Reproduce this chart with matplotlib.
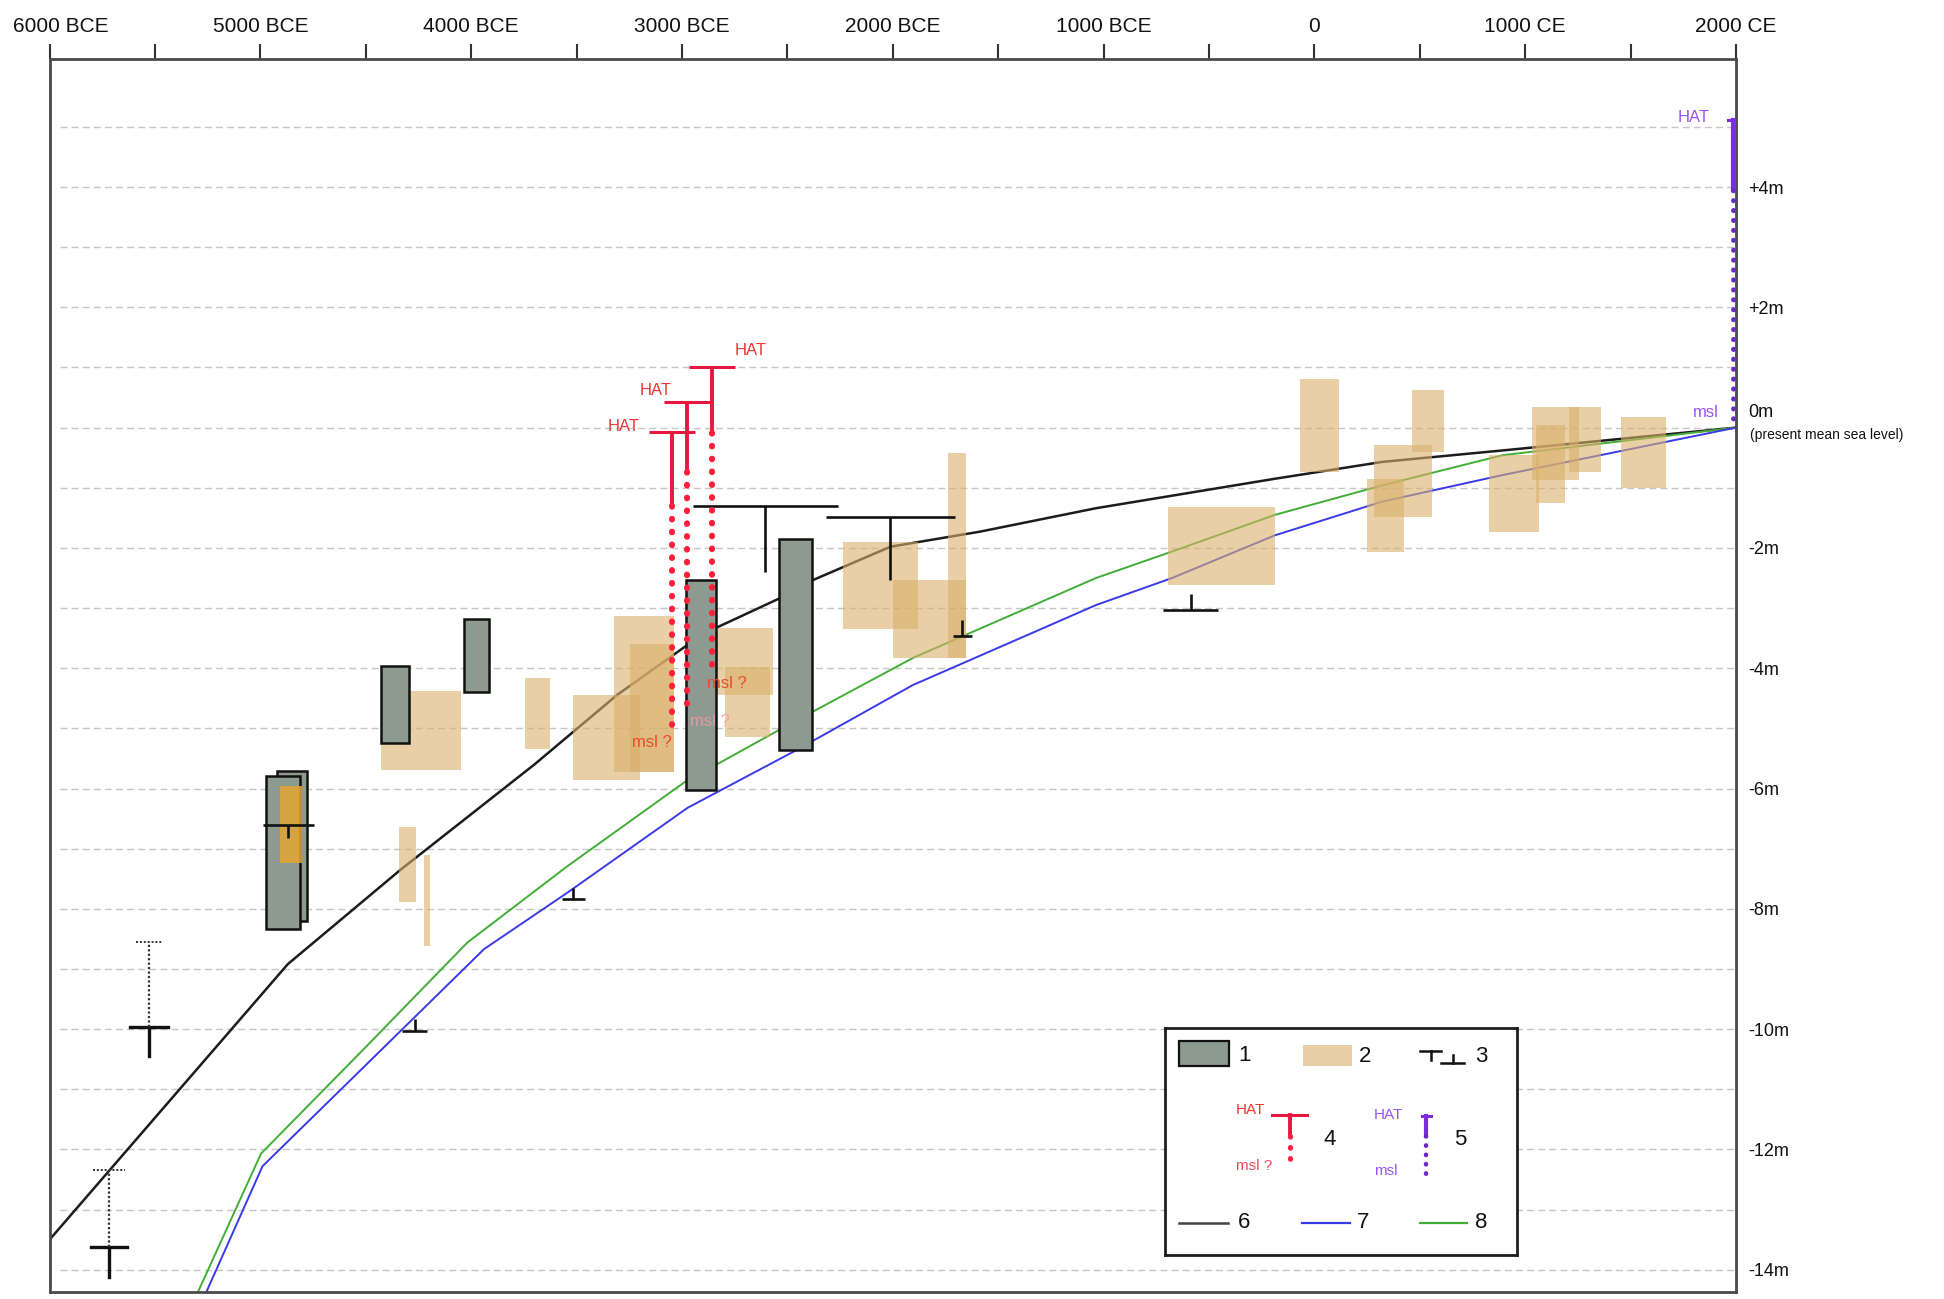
import matplotlib
matplotlib.use("Agg")
import matplotlib.pyplot as plt
from matplotlib.patches import Rectangle
from matplotlib.ticker import MultipleLocator
from matplotlib.transforms import ScaledTranslation

plt.rcParams['font.family'] = ['Liberation Sans', 'DejaVu Sans']

# AXES
YEAR_TICKS = [-6000, -5000, -4000, -3000, -2000, -1000, 0, 1000, 2000]
YEAR_LABELS = ['6000 BCE', '5000 BCE', '4000 BCE', '3000 BCE', '2000 BCE',
               '1000 BCE', '0', '1000 CE', '2000 CE']
DEPTH_TICKS = [4, 2, -2, -4, -6, -8, -10, -12, -14]
DEPTH_LABELS = ['+4m', '+2m', '-2m', '-4m', '-6m', '-8m', '-10m', '-12m', '-14m']

# 1 - grey bars: (start year, end year, top m, bottom m)
GREY_BARS = [(-4921, -4781, -5.71, -8.20), (-4971, -4813, -5.79, -8.34),
             (-4430, -4295, -3.97, -5.25), (-4034, -3915, -3.19, -4.40),
             (-2981, -2839, -2.54, -6.03), (-2540, -2383, -1.86, -5.36)]

# 2 - tan boxes: (start year, end year, top m, bottom m)
TAN_BOXES = [(-4430, -4050, -4.38, -5.70), (-3746, -3625, -4.16, -5.35),
             (-4343, -4264, -6.64, -7.88), (-4222, -4194, -7.10, -8.62),
             (-3515, -3200, -4.45, -5.86), (-3322, -3037, -3.13, -5.72),
             (-3245, -3037, -3.60, -5.72), (-2842, -2570, -3.33, -4.45),
             (-2795, -2583, -3.98, -5.14), (-2237, -1880, -1.90, -3.34),
             (-2000, -1655, -2.53, -3.83), (-1737, -1651, -0.43, -3.83),
             (-693, -186, -1.32, -2.62), (-68, 115, 0.81, -0.73),
             (281, 558, -0.29, -1.48), (463, 613, 0.62, -0.40),
             (249, 423, -0.85, -2.06), (828, 1065, -0.46, -1.73),
             (1033, 1255, 0.34, -0.87), (1049, 1191, 0.04, -1.26),
             (1207, 1358, 0.34, -0.73), (1453, 1667, 0.18, -1.01)]
ORANGE_BOX = (-4905, -4802, -5.96, -7.23)

# 3 - T / inverted T markers: (centre year, half width, level m, stem end m)
T_MARKS = [(-4868, 121, -6.61, -6.82), (-2606, 344, -1.31, -2.40),
           (-2011, 305, -1.48, -2.53), (-1670, 45, -3.47, -3.20),
           (-587, 130, -3.03, -2.77), (-3515, 55, -7.84, -7.65),
           (-4268, 60, -10.03, -9.83)]
# crosses with dotted upper range: (year, half width, level, solid end, dotted top, cap half width)
CROSS_MARKS = [(-5527, 90, -9.96, -10.45, -8.55, 65),
               (-5717, 85, -13.62, -14.12, -12.34, 75)]

# 4 - red HAT / msl? indicators
RED_X = [-3048, -2977, -2858]
RED_HAT = [-0.08, 0.42, 1.00]
RED_SOLID_END = [-1.30, -0.74, -0.09]
RED_MSL = [-5.10, -4.75, -4.09]

# 5 - purple HAT / msl indicator
PURPLE_X = 1985
PURPLE_HAT = 5.12
PURPLE_SOLID_END = 3.95
PURPLE_MSL = 0.10

# 6, 7, 8 - curves
BLACK_YEARS = [-6000, -4870, -4335, -3700, -3306, -2973, -2839, -2538, -2389,
               -2011, -1587, -1036, -187, 322, 891, 2000]
BLACK_DEPTH = [-13.5, -8.92, -7.35, -5.60, -4.44, -3.61, -3.33, -2.84, -2.55,
               -1.98, -1.73, -1.34, -0.85, -0.57, -0.38, 0.0]
BLUE_YEARS = [-5260, -4990, -4422, -3939, -3543, -2973, -2467, -1905, -1036,
              -675, -187, 322, 891, 2000]
BLUE_DEPTH = [-14.4, -12.28, -10.33, -8.67, -7.73, -6.32, -5.38, -4.28, -2.95,
              -2.50, -1.79, -1.23, -0.79, 0.0]
GREEN_YEARS = [-5300, -4997, -4509, -4018, -3543, -2990, -2500, -1905, -1036,
               -675, -187, 322, 891, 2000]
GREEN_DEPTH = [-14.4, -12.07, -10.33, -8.56, -7.29, -5.90, -4.95, -3.83, -2.50,
               -2.06, -1.45, -0.96, -0.46, 0.0]

GREY = '#8c9a90'
TAN = '#d9b06a'
RED = '#e8173f'
RED_DOTS = '#ff1f3a'
RED_TEXT = '#ee3535'
PURPLE = '#7d2be0'
BLACK_LINE = '#1c1c1c'
BLUE_LINE = '#3a3ae6'
GREEN_LINE = '#42ad37'
DOTTED = (0, (0.1, 2.0))

fig = plt.figure(figsize=(19.44, 12.99), dpi=100)
ax = fig.add_axes([0.0255, 0.0054, 0.8675, 0.9488])
ax.set_xlim(-6000, 2000)
ax.set_ylim(-14.37, 6.12)

# dashed guide lines every metre
for d in range(-14, 6):
    ax.axhline(d, xmin=0.006, color='#c6c6c6', lw=1.0, ls=(0, (5, 3)), zorder=0)

# curves
ax.plot(BLACK_YEARS, BLACK_DEPTH, color=BLACK_LINE, lw=1.8, zorder=2)
ax.plot(GREEN_YEARS, GREEN_DEPTH, color=GREEN_LINE, lw=1.4, zorder=2)
ax.plot(BLUE_YEARS, BLUE_DEPTH, color=BLUE_LINE, lw=1.4, zorder=2)

for x0, x1, top, bot in TAN_BOXES:
    ax.add_patch(Rectangle((x0, bot), x1 - x0, top - bot, fc=TAN, ec='none',
                           alpha=0.6, zorder=3))

for x0, x1, top, bot in GREY_BARS:
    ax.add_patch(Rectangle((x0, bot), x1 - x0, top - bot, fc=GREY, ec='#111111',
                           lw=1.8, zorder=4))

x0, x1, top, bot = ORANGE_BOX
ax.add_patch(Rectangle((x0, bot), x1 - x0, top - bot, fc='#e3a535', ec='none',
                       alpha=0.85, zorder=4.5))

# type 3 markers
for c, hw, lvl, end in T_MARKS:
    ax.plot([c - hw, c + hw], [lvl, lvl], color='#111111', lw=1.9, zorder=5,
            solid_capstyle='butt')
    ax.plot([c, c], [lvl, end], color='#111111', lw=1.9, zorder=5,
            solid_capstyle='butt')

for c, hw, lvl, solid, top, cap in CROSS_MARKS:
    ax.plot([c - hw, c + hw], [lvl, lvl], color='#111111', lw=2.4, zorder=5)
    ax.plot([c, c], [lvl, solid], color='#111111', lw=2.4, zorder=5)
    ax.plot([c, c], [lvl, top], color='#333333', lw=1.6, ls=(0, (1, 1)), zorder=5)
    ax.plot([c - cap, c + cap], [top, top], color='#333333', lw=1.4,
            ls=(0, (1, 1)), zorder=5)

# red HAT / msl ? indicators
for x, hat, solid, msl in zip(RED_X, RED_HAT, RED_SOLID_END, RED_MSL):
    ax.plot([x - 110, x + 110], [hat, hat], color=RED, lw=2.2, zorder=6,
            solid_capstyle='butt')
    ax.plot([x, x], [hat, solid], color=RED, lw=2.8, zorder=6, solid_capstyle='butt')
    ax.plot([x, x], [solid, msl], color=RED_DOTS, lw=4.4, ls=DOTTED,
            dash_capstyle='round', zorder=6)

ax.text(-3200, 0.02, 'HAT', color=RED_TEXT, fontsize=12, ha='right', va='center', zorder=7)
ax.text(-3050, 0.62, 'HAT', color=RED_TEXT, fontsize=12, ha='right', va='center', zorder=7)
ax.text(-2750, 1.28, 'HAT', color=RED_TEXT, fontsize=12, ha='left', va='center', zorder=7)
ax.text(-3050, -5.24, 'msl ?', color='#ec4a2a', fontsize=12, ha='right', va='center', zorder=7)
ax.text(-2960, -4.88, 'msl ?', color='#f29aa4', fontsize=12, ha='left', va='center',
        alpha=0.85, zorder=7)
ax.text(-2880, -4.25, 'msl ?', color='#ec4a2a', fontsize=12, ha='left', va='center', zorder=7)

# purple HAT / msl indicator
ax.plot([PURPLE_X - 25, PURPLE_X + 25], [PURPLE_HAT, PURPLE_HAT], color=PURPLE,
        lw=2.2, zorder=6)
ax.plot([PURPLE_X, PURPLE_X], [PURPLE_HAT, PURPLE_SOLID_END], color=PURPLE,
        lw=3.0, zorder=6)
ax.plot([PURPLE_X, PURPLE_X], [PURPLE_SOLID_END, PURPLE_MSL], color='#6a28c8',
        lw=3.4, ls=DOTTED, dash_capstyle='round', zorder=6)
ax.text(1876, 5.15, 'HAT', color='#9a55ee', fontsize=12, ha='right', va='center', zorder=7)
ax.text(1920, 0.25, 'msl', color='#9a55ee', fontsize=12, ha='right', va='center', zorder=7)

# axis styling
for sp in ax.spines.values():
    sp.set_color('#4a4a4a')
    sp.set_linewidth(2.0)

ax.xaxis.tick_top()
ax.set_xticks(YEAR_TICKS)
ax.set_xticklabels(YEAR_LABELS)
ax.xaxis.set_minor_locator(MultipleLocator(500))
ax.tick_params(axis='x', which='both', direction='out', length=11, width=1.5,
               color='#333333', top=True, bottom=False, labelsize=15, pad=6,
               labelcolor='#111111')
# keep the first year label inside the figure
first = ax.get_xticklabels()[0]
first.set_transform(first.get_transform() + ScaledTranslation(0.11, 0, fig.dpi_scale_trans))

ax.yaxis.tick_right()
ax.set_yticks(DEPTH_TICKS)
ax.set_yticklabels(DEPTH_LABELS)
ax.tick_params(axis='y', length=0, pad=9, labelsize=13, labelcolor='#111111')

ytr = ax.get_yaxis_transform()
ax.text(1.0075, 0.25, '0m', transform=ytr, fontsize=13, va='center', ha='left',
        color='#111111')
ax.text(1.0085, -0.12, '(present mean sea level)', transform=ytr, fontsize=10,
        va='center', ha='left', color='#111111')

# legend panel
lg = fig.add_axes([0.5993, 0.0339, 0.1811, 0.1748])
lg.set_xlim(0, 283)
lg.set_ylim(183, 0)
lg.set_xticks([])
lg.set_yticks([])
for sp in lg.spines.values():
    sp.set_color('#1e1e1e')
    sp.set_linewidth(2.0)

num = dict(fontsize=16, va='center', ha='left', color='#111111')
lg.add_patch(Rectangle((11.6, 10.7), 40, 20, fc=GREY, ec='#111111', lw=1.6))
lg.text(59, 22, '1', **num)
lg.add_patch(Rectangle((111, 13.4), 39, 17.5, fc=TAN, ec='none', alpha=0.6))
lg.text(156, 23, '2', **num)
lg.plot([205, 222], [19, 19], color='#111111', lw=1.8)
lg.plot([213.5, 213.5], [19, 25.5], color='#111111', lw=1.8)
lg.plot([222, 240], [28, 28], color='#111111', lw=1.8)
lg.plot([231.8, 231.8], [21.5, 28], color='#111111', lw=1.8)
lg.text(249.5, 23, '3', **num)

lg.text(57, 66, 'HAT', color=RED_TEXT, fontsize=11, ha='left', va='center')
lg.plot([86, 114], [70.6, 70.6], color=RED, lw=2.2)
lg.plot([100.3, 100.3], [70.6, 87.3], color=RED, lw=2.8)
lg.plot([100.3, 100.3], [87.3, 110], color=RED_DOTS, lw=3.8, ls=DOTTED,
        dash_capstyle='round')
lg.text(57, 111.5, 'msl ?', color='#ee4a55', fontsize=11, ha='left', va='center')
lg.text(127, 90, '4', **num)

lg.text(167.5, 69.8, 'HAT', color='#9a55ee', fontsize=11, ha='left', va='center')
lg.plot([206.4, 213.6], [71, 71], color=PURPLE, lw=2.2)
lg.plot([210, 210], [71, 87.3], color=PURPLE, lw=3.0)
lg.plot([210, 210], [87.3, 118], color='#6a28c8', lw=3.2, ls=DOTTED,
        dash_capstyle='round')
lg.text(168, 115.5, 'msl', color='#9a55ee', fontsize=11, ha='left', va='center')
lg.text(232, 90, '5', **num)

lg.plot([11.6, 50.6], [157, 157], color='#444444', lw=1.8)
lg.text(58.7, 157, '6', **num)
lg.plot([109.7, 148.7], [157, 157], color=BLUE_LINE, lw=1.6)
lg.text(154, 157, '7', **num)
lg.plot([205, 243], [157, 157], color=GREEN_LINE, lw=1.6)
lg.text(249.5, 157, '8', **num)

fig.savefig('out.png', dpi=100)
